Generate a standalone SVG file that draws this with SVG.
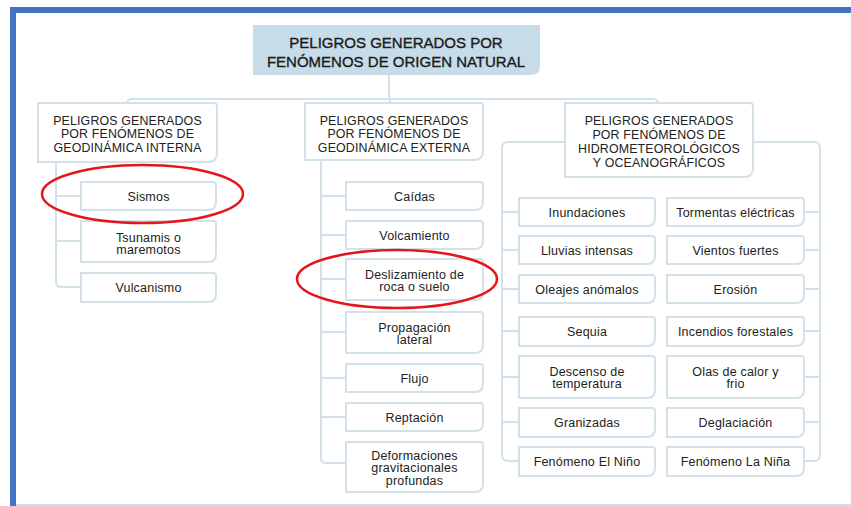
<svg xmlns="http://www.w3.org/2000/svg" width="851" height="506" viewBox="0 0 851 506">
<style>
text{font-family:"Liberation Sans",Arial,sans-serif;fill:#222;text-anchor:middle}
.t{font-size:15px;fill:#1a1a1a;stroke:#1a1a1a;stroke-width:0.35}
.h{font-size:12.4px;letter-spacing:0.15px}
.c{font-size:12.5px;letter-spacing:0.2px}
.box{fill:#fff;stroke:#d3e1ea;stroke-width:2}
.con{fill:none;stroke:#d3e1ea;stroke-width:2}
.ring{fill:none;stroke:#e4161b;stroke-width:2.5}
</style>
<rect x="0" y="0" width="851" height="506" fill="#fff"/>
<rect x="10" y="7" width="841" height="6" fill="#4472c4"/>
<rect x="10" y="7" width="6" height="499" fill="#4472c4"/>
<line x1="16" y1="505" x2="851" y2="505" stroke="#c3d3ea" stroke-width="1.5"/>
<g id="connectors">
<path class="con" d="M389 75 V99"/>
<path class="con" d="M127 103 V104 Q127 99 132 99 H653 Q658 99 658 104 V103"/>
<path class="con" d="M390 99 V103"/>
<path class="con" d="M56 162 V282 Q56 287 61 287 H81 M56 196 H81 M56 241 H81"/>
<path class="con" d="M321 160 V458 Q321 463 326 463 H346 M321 196 H346 M321 235 H346 M321 279 H346 M321 332 H346 M321 378 H346 M321 417 H346"/>
<path class="con" d="M565 142 H508 Q502 142 502 148 V455 Q502 461 508 461 H519 M502 212 H519 M502 250 H519 M502 289 H519 M502 331 H519 M502 377 H519 M502 422 H519"/>
<path class="con" d="M753 142 H814 Q820 142 820 148 V455 Q820 461 814 461 H804 M820 212 H804 M820 250 H804 M820 289 H804 M820 331 H804 M820 377 H804 M820 422 H804"/>
</g>
<g id="root">
<path d="M253 25 H540 V66 Q540 75 531 75 H253 Z" fill="#c7dce9"/>
<text class="t" x="396" y="48">PELIGROS GENERADOS POR</text>
<text class="t" x="396" y="67">FENÓMENOS DE ORIGEN NATURAL</text>
</g>
<g id="interna">
<path class="box" d="M38 103 H214 Q217 103 217 106 V153 Q217 162 208 162 H38 Z"/>
<text class="h" x="127.5" y="124.5">PELIGROS GENERADOS</text>
<text class="h" x="127.5" y="138">POR FENÓMENOS DE</text>
<text class="h" x="127.5" y="151.5">GEODINÁMICA INTERNA</text>
</g>
<g id="sismos">
<path class="box" d="M81 182 H213 Q216 182 216 185 V202 Q216 210 208 210 H81 Z"/>
<text class="c" x="148.5" y="200.5">Sismos</text>
</g>
<g id="tsunamis">
<path class="box" d="M81 221 H213 Q216 221 216 224 V254 Q216 262 208 262 H81 Z"/>
<text class="c" x="148.5" y="241.5">Tsunamis o</text>
<text class="c" x="148.5" y="254">maremotos</text>
</g>
<g id="vulcanismo">
<path class="box" d="M81 273 H213 Q216 273 216 276 V294 Q216 302 208 302 H81 Z"/>
<text class="c" x="148.5" y="292">Vulcanismo</text>
</g>
<g id="externa">
<path class="box" d="M305 103 H480 Q483 103 483 106 V151 Q483 160 474 160 H305 Z"/>
<text class="h" x="394" y="124.5">PELIGROS GENERADOS</text>
<text class="h" x="394" y="138">POR FENÓMENOS DE</text>
<text class="h" x="394" y="151.5">GEODINÁMICA EXTERNA</text>
</g>
<g id="caidas">
<path class="box" d="M346 182 H480 Q483 182 483 185 V202 Q483 210 475 210 H346 Z"/>
<text class="c" x="414.5" y="200.5">Caídas</text>
</g>
<g id="volcamiento">
<path class="box" d="M346 221 H480 Q483 221 483 224 V241 Q483 249 475 249 H346 Z"/>
<text class="c" x="414.5" y="239.5">Volcamiento</text>
</g>
<g id="deslizamiento">
<path class="box" d="M346 259 H480 Q483 259 483 262 V292 Q483 300 475 300 H346 Z"/>
<text class="c" x="414.5" y="278.5">Deslizamiento de</text>
<text class="c" x="414.5" y="291">roca o suelo</text>
</g>
<g id="propagacion">
<path class="box" d="M346 312 H480 Q483 312 483 315 V345 Q483 353 475 353 H346 Z"/>
<text class="c" x="414.5" y="331.5">Propagación</text>
<text class="c" x="414.5" y="344">lateral</text>
</g>
<g id="flujo">
<path class="box" d="M346 364 H480 Q483 364 483 367 V384 Q483 392 475 392 H346 Z"/>
<text class="c" x="414.5" y="382.5">Flujo</text>
</g>
<g id="reptacion">
<path class="box" d="M346 403 H480 Q483 403 483 406 V423 Q483 431 475 431 H346 Z"/>
<text class="c" x="414.5" y="421.5">Reptación</text>
</g>
<g id="deformaciones">
<path class="box" d="M346 442 H480 Q483 442 483 445 V484 Q483 492 475 492 H346 Z"/>
<text class="c" x="414.5" y="459.5">Deformaciones</text>
<text class="c" x="414.5" y="472">gravitacionales</text>
<text class="c" x="414.5" y="484.5">profundas</text>
</g>
<g id="hidro">
<path class="box" d="M565 103 H750 Q753 103 753 106 V168 Q753 177 744 177 H565 Z"/>
<text class="h" x="659" y="124.5">PELIGROS GENERADOS</text>
<text class="h" x="659" y="138.5">POR FENÓMENOS DE</text>
<text class="h" x="659" y="152.5">HIDROMETEOROLÓGICOS</text>
<text class="h" x="659" y="166.5">Y OCEANOGRÁFICOS</text>
</g>
<g id="inundaciones">
<path class="box" d="M519 198 H652 Q655 198 655 201 V218 Q655 226 647 226 H519 Z"/>
<text class="c" x="587" y="216.5">Inundaciones</text>
</g>
<g id="lluvias">
<path class="box" d="M519 236 H652 Q655 236 655 239 V256 Q655 264 647 264 H519 Z"/>
<text class="c" x="587" y="254.5">Lluvias intensas</text>
</g>
<g id="oleajes">
<path class="box" d="M519 275 H652 Q655 275 655 278 V295 Q655 303 647 303 H519 Z"/>
<text class="c" x="587" y="293.5">Oleajes anómalos</text>
</g>
<g id="sequia">
<path class="box" d="M519 317 H652 Q655 317 655 320 V338 Q655 346 647 346 H519 Z"/>
<text class="c" x="587" y="335.5">Sequia</text>
</g>
<g id="descenso">
<path class="box" d="M519 356 H652 Q655 356 655 359 V390 Q655 398 647 398 H519 Z"/>
<text class="c" x="587" y="375.5">Descenso de</text>
<text class="c" x="587" y="388">temperatura</text>
</g>
<g id="granizadas">
<path class="box" d="M519 408 H652 Q655 408 655 411 V429 Q655 437 647 437 H519 Z"/>
<text class="c" x="587" y="426.5">Granizadas</text>
</g>
<g id="nino">
<path class="box" d="M519 447 H652 Q655 447 655 450 V468 Q655 476 647 476 H519 Z"/>
<text class="c" x="587" y="465.5">Fenómeno El Niño</text>
</g>
<g id="tormentas">
<path class="box" d="M667 198 H801 Q804 198 804 201 V218 Q804 226 796 226 H667 Z"/>
<text class="c" x="735.5" y="216.5">Tormentas eléctricas</text>
</g>
<g id="vientos">
<path class="box" d="M667 236 H801 Q804 236 804 239 V256 Q804 264 796 264 H667 Z"/>
<text class="c" x="735.5" y="254.5">Vientos fuertes</text>
</g>
<g id="erosion">
<path class="box" d="M667 275 H801 Q804 275 804 278 V295 Q804 303 796 303 H667 Z"/>
<text class="c" x="735.5" y="293.5">Erosión</text>
</g>
<g id="incendios">
<path class="box" d="M667 317 H801 Q804 317 804 320 V338 Q804 346 796 346 H667 Z"/>
<text class="c" x="735.5" y="335.5">Incendios forestales</text>
</g>
<g id="olas">
<path class="box" d="M667 356 H801 Q804 356 804 359 V390 Q804 398 796 398 H667 Z"/>
<text class="c" x="735.5" y="375.5">Olas de calor y</text>
<text class="c" x="735.5" y="388">frio</text>
</g>
<g id="deglaciacion">
<path class="box" d="M667 408 H801 Q804 408 804 411 V429 Q804 437 796 437 H667 Z"/>
<text class="c" x="735.5" y="426.5">Deglaciación</text>
</g>
<g id="nina">
<path class="box" d="M667 447 H801 Q804 447 804 450 V468 Q804 476 796 476 H667 Z"/>
<text class="c" x="735.5" y="465.5">Fenómeno La Niña</text>
</g>
<g id="highlights">
<ellipse class="ring" cx="142.5" cy="194" rx="100.5" ry="29"/>
<ellipse class="ring" cx="397" cy="279" rx="100" ry="29"/>
</g>
</svg>
